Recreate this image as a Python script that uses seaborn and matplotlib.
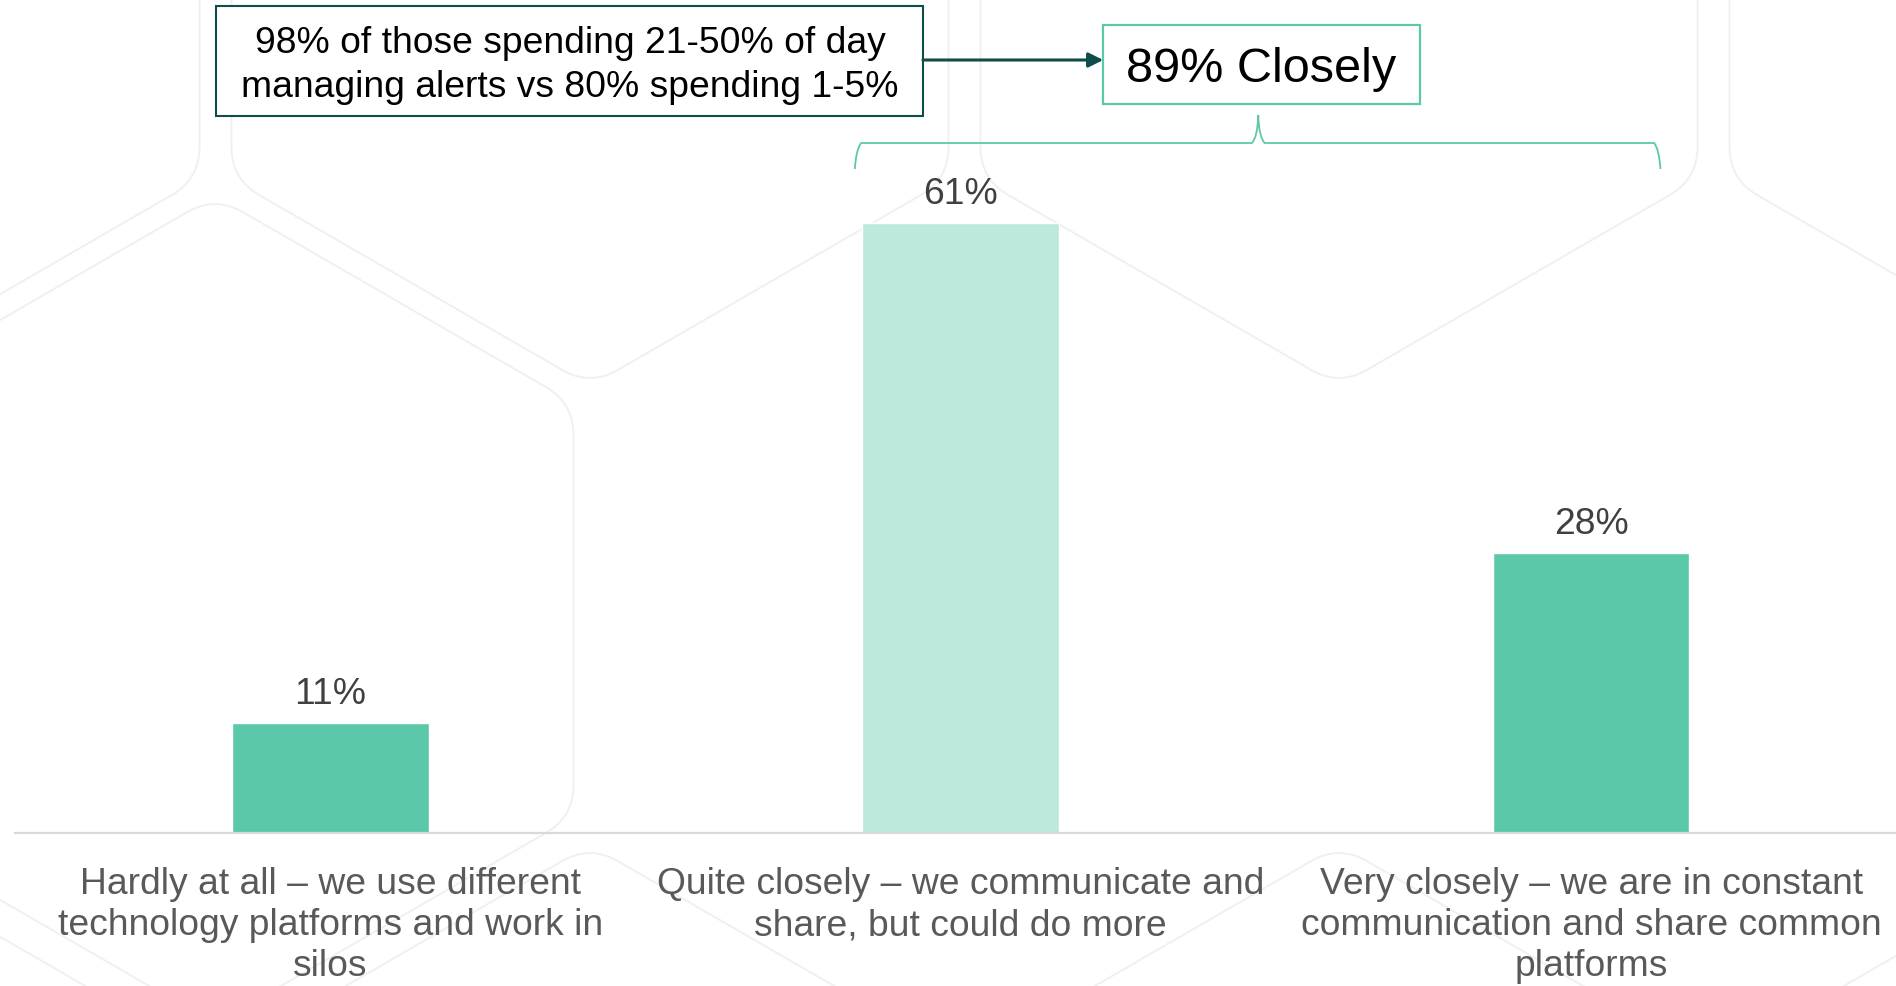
import numpy as np
import pandas as pd
import matplotlib
matplotlib.use("Agg")
import matplotlib.pyplot as plt
from matplotlib.path import Path
from matplotlib.patches import PathPatch, Rectangle
import seaborn as sns

# ---- data -------------------------------------------------------------
categories = [
    "Hardly at all – we use different\ntechnology platforms and work in\nsilos",
    "Quite closely – we communicate and\nshare, but could do more",
    "Very closely – we are in constant\ncommunication and share common\nplatforms",
]
values = [11, 61, 28]
bar_colors = ["#5BC9A9", "#BDE8DC", "#5BC9A9"]
callout_text = "98% of those spending 21-50% of day\nmanaging alerts vs 80% spending 1-5%"
closely_text = "89% Closely"

# ---- style ------------------------------------------------------------
sns.set_theme(style="white")
plt.rcParams["font.family"] = ["Liberation Sans", "DejaVu Sans"]

W, H, DPI = 1896, 986, 100
fig = plt.figure(figsize=(W / DPI, H / DPI), dpi=DPI)
fig.patch.set_facecolor("white")

# ---- faint honeycomb backdrop (pixel space) ---------------------------
bg = fig.add_axes([0, 0, 1, 1], zorder=0)
bg.set_xlim(0, W)
bg.set_ylim(H, 0)
bg.axis("off")


def rounded_hex(cx, cy, R, corner=32):
    ang = np.deg2rad(90 + 60 * np.arange(6))
    pts = np.column_stack([cx + R * np.cos(ang), cy - R * np.sin(ang)])
    verts, codes = [], []
    for k in range(6):
        v = pts[k]
        p = pts[k - 1]
        n = pts[(k + 1) % 6]
        a = v + (p - v) / np.linalg.norm(p - v) * corner
        b = v + (n - v) / np.linalg.norm(n - v) * corner
        verts.append(a)
        codes.append(Path.MOVETO if k == 0 else Path.LINETO)
        verts += [v, b]
        codes += [Path.CURVE3, Path.CURVE3]
    verts.append(verts[0])
    codes.append(Path.LINETO)
    return Path(np.array(verts), codes)


R_HEX = 414
hex_centres = [(-159, -28), (590, -28), (1339, -28), (2088, -28),
               (215, 610),
               (-159, 1259), (590, 1259), (1339, 1259), (2088, 1259)]
for cx, cy in hex_centres:
    bg.add_patch(PathPatch(rounded_hex(cx, cy, R_HEX), facecolor="none",
                           edgecolor="#F0F0F0", lw=1.4))

# ---- main bar chart ---------------------------------------------------
ax = fig.add_axes([15.25 / W, (H - 833) / H, 1891 / W, 833 / H], zorder=1)
ax.patch.set_alpha(0)

df = pd.DataFrame({"category": categories, "value": values})
sns.barplot(data=df, x="category", y="value", hue="category",
            palette=bar_colors, width=0.312, saturation=1,
            legend=False, ax=ax)

ax.set_xlim(-0.5, 2.5)
ax.set_ylim(0, 83.3)
ax.set_xlabel("")
ax.set_ylabel("")
ax.set_yticks([])
for s in ["top", "right", "left"]:
    ax.spines[s].set_visible(False)
ax.spines["bottom"].set_color("#D9D9D9")
ax.spines["bottom"].set_linewidth(1.6)
ax.tick_params(axis="x", length=0, pad=24.5)
for lbl in ax.get_xticklabels():
    lbl.set_fontsize(26.8)
    lbl.set_color("#595959")
    lbl.set_linespacing(1.23)
    lbl.set_horizontalalignment("center")

# value labels above bars
for i, v in enumerate(values):
    ax.text(i, v + 1.85, f"{v}%", ha="center", va="baseline",
            fontsize=26.8, color="#404040")

# ---- callouts -----------------------------------------------------------
teal_dark = "#0F4C4C"
green = "#5BC9A9"

# left explanatory box
ax.add_patch(Rectangle((-0.182, 71.7), 1.122, 11.0, facecolor="white",
                       edgecolor=teal_dark, lw=1.5, zorder=3, clip_on=False))
ax.text(0.380, 76.75, callout_text, ha="center", va="center",
        fontsize=26.8, color="black", linespacing=1.32, zorder=4)

# arrow to the headline box
ax.annotate("", xy=(1.226, 77.3), xytext=(0.940, 77.3),
            arrowprops=dict(arrowstyle="-|>", color=teal_dark, lw=2.2,
                            mutation_scale=22, shrinkA=0, shrinkB=0),
            zorder=4, annotation_clip=False)

# headline box
ax.add_patch(Rectangle((1.226, 72.9), 0.502, 7.9, facecolor="white",
                       edgecolor=green, lw=1.6, zorder=3, clip_on=False))
ax.text(1.477, 76.4, closely_text, ha="center", va="center",
        fontsize=35, color="black", zorder=4)

# curly bracket spanning the two "closely" bars
xl, xm, xr = 0.832, 1.472, 2.110
yh, ye, yt = 69.0, 66.4, 71.8
dx, dy = 0.010, 0.6
brace_v = [(xl, ye), (xl + 0.002, yh - dy), (xl + dx, yh),
           (xm - dx, yh), (xm - 0.001, yh + dy), (xm, yt),
           (xm + 0.001, yh + dy), (xm + dx, yh),
           (xr - dx, yh), (xr - 0.002, yh - dy), (xr, ye)]
brace_c = [Path.MOVETO, Path.CURVE3, Path.CURVE3,
           Path.LINETO, Path.CURVE3, Path.CURVE3,
           Path.CURVE3, Path.CURVE3,
           Path.LINETO, Path.CURVE3, Path.CURVE3]
ax.add_patch(PathPatch(Path(brace_v, brace_c), facecolor="none",
                       edgecolor=green, lw=1.3, zorder=3, clip_on=False))

fig.savefig("out.png", dpi=DPI, facecolor="white")
